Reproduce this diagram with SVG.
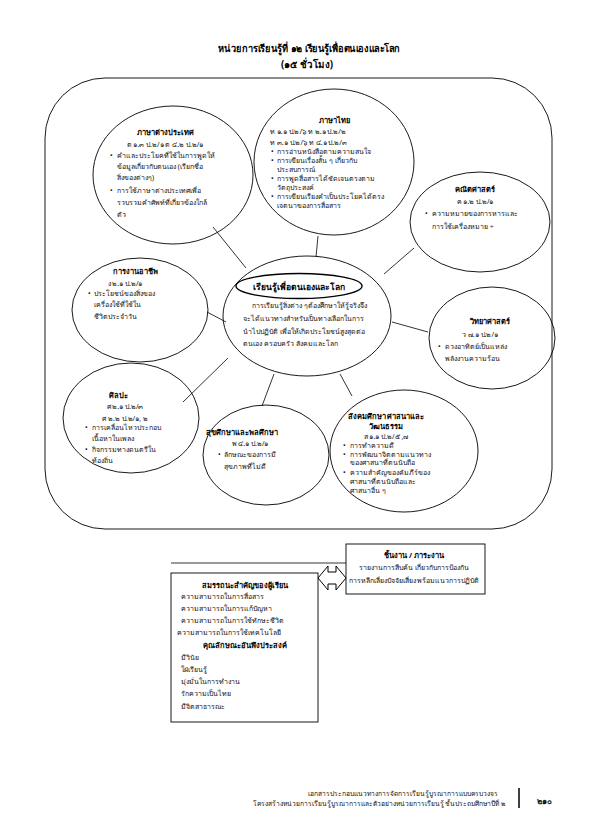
<svg xmlns="http://www.w3.org/2000/svg" width="595" height="836" viewBox="0 0 595 836">
<style>
text{font-family:"Noto Sans","DejaVu Sans","Liberation Sans",sans-serif;font-size:7px;fill:#111}
.t{font-weight:bold;text-anchor:middle;font-size:7.5px;fill:#000}
.c{text-anchor:middle}
.h{font-weight:bold;text-anchor:middle;font-size:10px;fill:#000}
.s{fill:none;stroke:#000;stroke-width:0.9}
.f{font-size:6.7px;text-anchor:end}
</style>
<rect width="595" height="836" fill="#fff"/>
<g id="title">
<text class="h" x="309" y="52" textLength="182" lengthAdjust="spacingAndGlyphs">หน่วยการเรียนรู้ที่ ๑๒ เรียนรู้เพื่อตนเองและโลก</text>
<text class="h" x="307" y="68" textLength="52" lengthAdjust="spacingAndGlyphs">(๑๕ ชั่วโมง)</text>
</g>
<rect id="frame" class="s" x="45" y="78" width="507" height="451" rx="60"/>
<g id="connectors" stroke="#000" stroke-width="0.8" fill="none">
<line x1="213" y1="227" x2="246" y2="268"/>
<line x1="318" y1="236" x2="316" y2="257"/>
<line x1="414" y1="248" x2="384" y2="274"/>
<line x1="207" y1="312" x2="226" y2="322"/>
<line x1="392" y1="322" x2="428" y2="332"/>
<line x1="183" y1="402" x2="228" y2="358"/>
<line x1="262" y1="406" x2="274" y2="374"/>
<line x1="352" y1="396" x2="340" y2="374"/>
<line x1="171" y1="563" x2="346" y2="563"/>
<path d="M318,578 L328,566 L328,572 L336,572 L336,566 L346,578 L336,590 L336,584 L328,584 L328,590 Z" fill="#fff" stroke-width="1"/>
</g>
<g id="foreign">
<ellipse class="s" cx="173" cy="175" rx="80" ry="69"/>
<text class="t" x="165" y="135">ภาษาต่างประเทศ</text>
<text class="c" x="165" y="147">ต ๑.๓ ป.๒/๑ ต ๔.๒ ป.๒/๑</text>
<text x="110" y="158">•</text><text x="117" y="158">คำและประโยคที่ใช้ในการพูดให้</text>
<text x="117" y="169">ข้อมูลเกี่ยวกับตนเอง (เรียกชื่อ</text>
<text x="117" y="180">สิ่งของต่างๆ)</text>
<text x="110" y="193">•</text><text x="117" y="193">การใช้ภาษาต่างประเทศเพื่อ</text>
<text x="117" y="205">รวบรวมคำศัพท์ที่เกี่ยวข้องใกล้</text>
<text x="117" y="217">ตัว</text>
</g>
<g id="thai">
<ellipse class="s" cx="334" cy="162" rx="80" ry="73"/>
<text class="t" x="334" y="123">ภาษาไทย</text>
<text x="270" y="134">ท ๑.๑ ป.๒/๖ ท ๒.๑ ป.๒/๒</text>
<text x="270" y="145">ท ๓.๑ ป.๒/๖ ท ๔.๑ ป.๒/๓</text>
<text x="271" y="154">•</text><text x="277" y="154">การอ่านหนังสือตามความสนใจ</text>
<text x="271" y="163">•</text><text x="277" y="163">การเขียนเรื่องสั้น ๆ เกี่ยวกับ</text>
<text x="277" y="172">ประสบการณ์</text>
<text x="271" y="181">•</text><text x="277" y="181">การพูดสื่อสารได้ชัดเจนตรงตาม</text>
<text x="277" y="190">วัตถุประสงค์</text>
<text x="271" y="199">•</text><text x="277" y="199">การเขียนเรียงคำเป็นประโยคได้ตรง</text>
<text x="277" y="208">เจตนาของการสื่อสาร</text>
</g>
<g id="math">
<ellipse class="s" cx="480" cy="222" rx="70" ry="50"/>
<text class="t" x="475" y="192">คณิตศาสตร์</text>
<text class="c" x="475" y="204">ค ๑.๒ ป.๒/๑</text>
<text x="425" y="216">•</text><text x="432" y="216">ความหมายของการหารและ</text>
<text x="432" y="229">การใช้เครื่องหมาย ÷</text>
</g>
<g id="career">
<ellipse class="s" cx="140" cy="310" rx="68" ry="52"/>
<text class="t" x="135" y="274">การงานอาชีพ</text>
<text class="c" x="125" y="286">ง ๒.๑ ป.๒/๑</text>
<text x="88" y="296">•</text><text x="94" y="296">ประโยชน์ของสิ่งของ</text>
<text x="94" y="307">เครื่องใช้ที่ใช้ใน</text>
<text x="94" y="319">ชีวิตประจำวัน</text>
</g>
<g id="center">
<ellipse class="s" cx="307" cy="316" rx="84" ry="60"/>
<ellipse cx="299" cy="286" rx="63" ry="12.5" fill="none" stroke="#000" stroke-width="1.4"/>
<text class="t" x="299" y="289.5" style="font-size:8.5px">เรียนรู้เพื่อตนเองและโลก</text>
<text x="252" y="308">การเรียนรู้สิ่งต่าง ๆต้องศึกษาให้รู้จริงจึง</text>
<text x="243" y="321">จะได้แนวทางสำหรับเป็นทางเลือกในการ</text>
<text x="243" y="334">นำไปปฏิบัติ เพื่อให้เกิดประโยชน์สูงสุดต่อ</text>
<text x="243" y="346">ตนเอง ครอบครัว สังคมและโลก</text>
</g>
<g id="science">
<ellipse class="s" cx="492" cy="338" rx="63" ry="51"/>
<text class="t" x="490" y="324">วิทยาศาสตร์</text>
<text class="c" x="480" y="337">ว ๗.๑ ป.๒/๑</text>
<text x="438" y="349">•</text><text x="445" y="349">ดวงอาทิตย์เป็นแหล่ง</text>
<text x="445" y="361">พลังงานความร้อน</text>
</g>
<g id="art">
<ellipse class="s" cx="131" cy="418" rx="68" ry="55"/>
<text class="t" x="118" y="398">ศิลปะ</text>
<text class="c" x="125" y="409">ศ ๒.๑ ป.๒/๓</text>
<text class="c" x="125" y="421">ศ ๒.๒ ป.๒/๑, ๒</text>
<text x="85" y="430">•</text><text x="92" y="430">การเคลื่อนไหวประกอบ</text>
<text x="92" y="441">เนื้อหาในเพลง</text>
<text x="85" y="452">•</text><text x="92" y="452">กิจกรรมทางดนตรีใน</text>
<text x="92" y="463">ท้องถิ่น</text>
</g>
<g id="health">
<ellipse class="s" cx="266" cy="455" rx="63" ry="50"/>
<text class="t" x="242" y="435">สุขศึกษาและพลศึกษา</text>
<text class="c" x="250" y="446">พ ๔.๑ ป.๒/๑</text>
<text x="218" y="457">•</text><text x="224" y="457">ลักษณะของการมี</text>
<text x="224" y="469">สุขภาพที่ไม่ดี</text>
</g>
<g id="social">
<ellipse class="s" cx="404" cy="451" rx="74" ry="61"/>
<text class="t" x="386" y="419">สังคมศึกษา ศาสนาและ</text>
<text class="t" x="386" y="429">วัฒนธรรม</text>
<text class="c" x="386" y="439">ส ๑.๑ ป.๒/๕ ,๗</text>
<text x="343" y="448">•</text><text x="350" y="448">การทำความดี</text>
<text x="343" y="457">•</text><text x="350" y="457">การพัฒนาจิตตามแนวทาง</text>
<text x="350" y="465">ของศาสนาที่ตนนับถือ</text>
<text x="343" y="475">•</text><text x="350" y="475">ความสำคัญของคัมภีร์ของ</text>
<text x="350" y="484">ศาสนาที่ตนนับถือและ</text>
<text x="350" y="493">ศาสนาอื่น ๆ</text>
</g>
<g id="task">
<rect x="346" y="544" width="139" height="50" fill="#fff" stroke="#000" stroke-width="0.9"/>
<text class="t" x="414" y="558">ชิ้นงาน / ภาระงาน</text>
<text class="c" x="414" y="570">รายงานการสืบค้น เกี่ยวกับการป้องกัน</text>
<text class="c" x="414" y="583">การหลีกเลี่ยงปัจจัยเสี่ยง พร้อมแนวการปฏิบัติ</text>
</g>
<g id="competency">
<rect x="171" y="573" width="147" height="149" fill="#fff" stroke="#000" stroke-width="0.9"/>
<text class="t" x="245" y="588">สมรรถนะสำคัญของผู้เรียน</text>
<text x="181" y="599">ความสามารถในการสื่อสาร</text>
<text x="181" y="611">ความสามารถในการแก้ปัญหา</text>
<text x="181" y="623">ความสามารถในการใช้ทักษะชีวิต</text>
<text x="177" y="635">ความสามารถในการใช้เทคโนโลยี</text>
<text class="t" x="245" y="648">คุณลักษณะอันพึงประสงค์</text>
<text x="181" y="660">มีวินัย</text>
<text x="181" y="672">ใฝ่เรียนรู้</text>
<text x="181" y="684">มุ่งมั่นในการทำงาน</text>
<text x="181" y="696">รักความเป็นไทย</text>
<text x="181" y="709">มีจิตสาธารณะ</text>
</g>
<g id="footer">
<text class="f" x="498" y="796">เอกสารประกอบแนวทางการจัดการเรียนรู้บูรณาการแบบครบวงจร</text>
<text class="f" x="505" y="806">โครงสร้างหน่วยการเรียนรู้บูรณาการและตัวอย่างหน่วยการเรียนรู้ ชั้นประถมศึกษาปีที่ ๒</text>
<line x1="519" y1="788" x2="519" y2="808" stroke="#000" stroke-width="1.5"/>
<text x="537" y="804" style="font-weight:bold;font-size:8px">๒๑๐</text>
</g>
</svg>
